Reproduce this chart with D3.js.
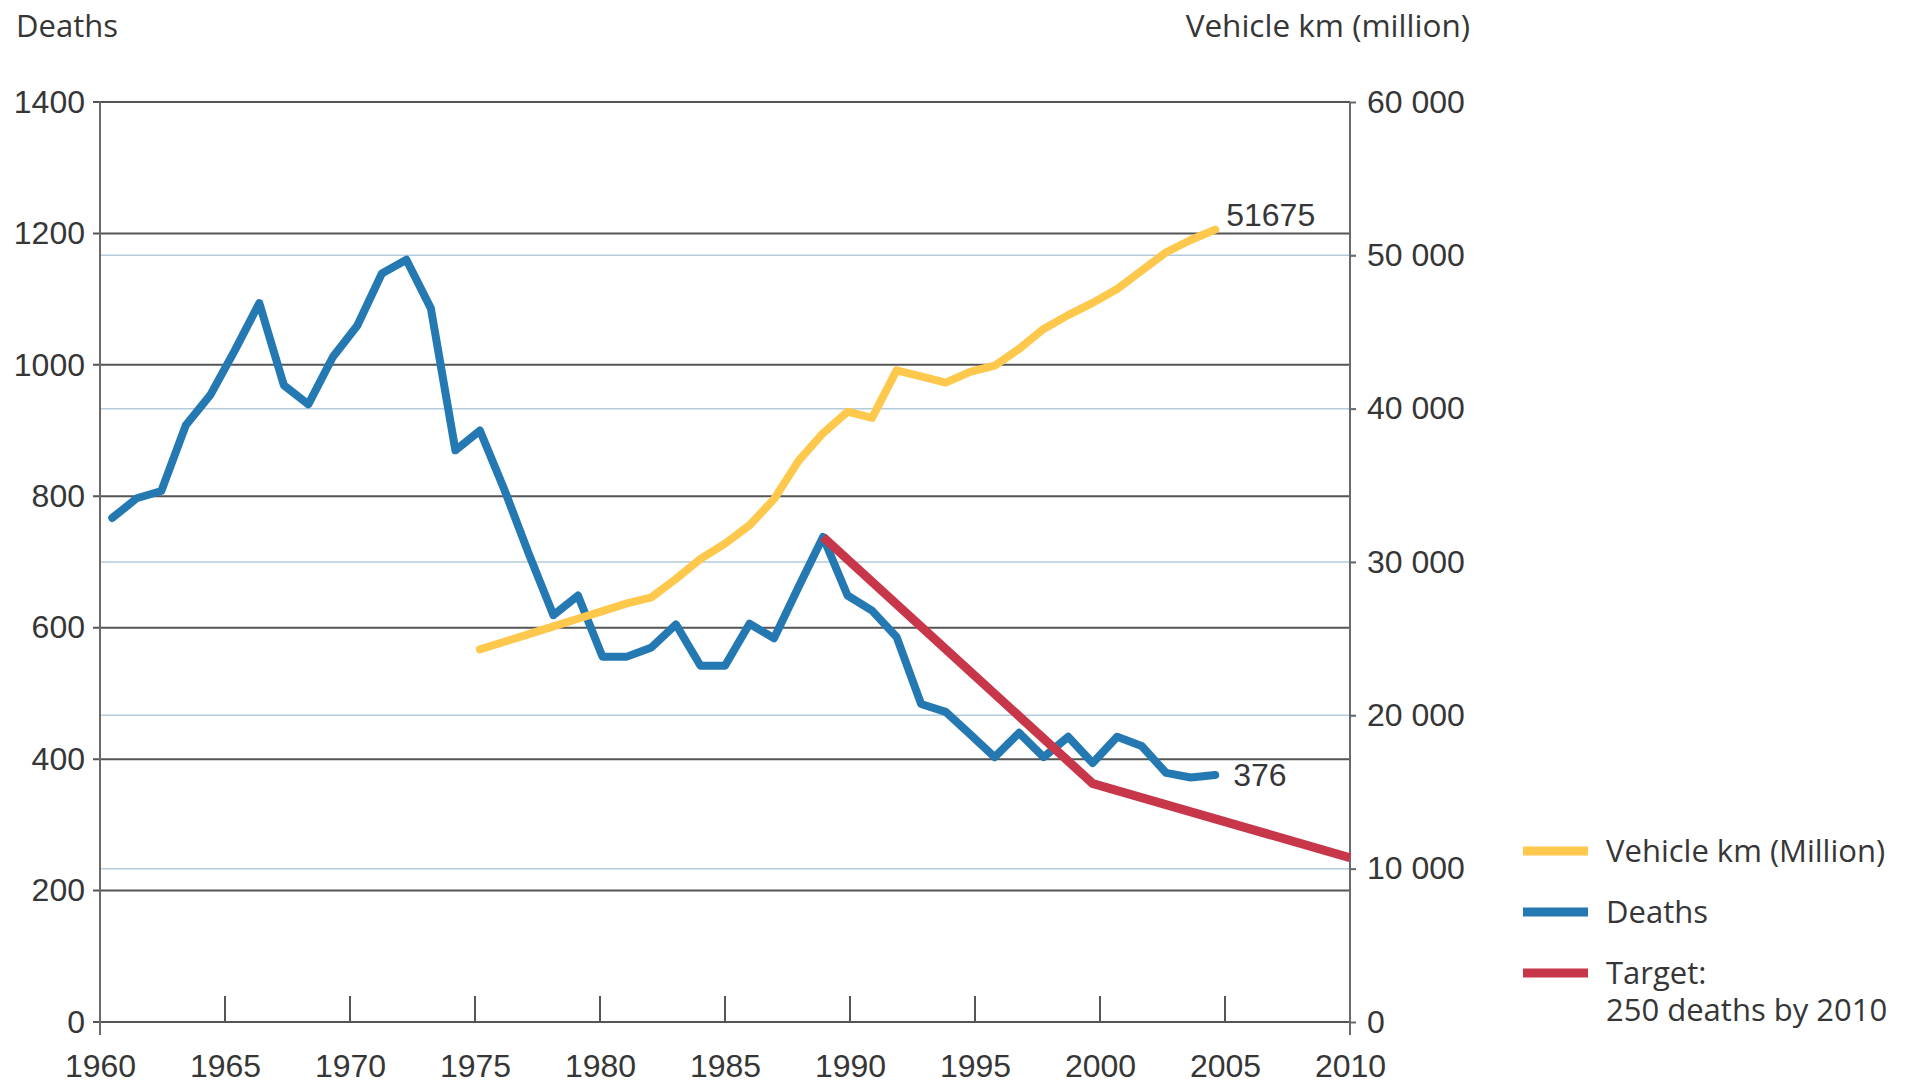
<!DOCTYPE html>
<html>
<head>
<meta charset="utf-8">
<script src="https://cdn.jsdelivr.net/npm/d3@7"></script>
<style>
  html, body { margin: 0; padding: 0; background: #ffffff; }
  svg { display: block; }
  .num { font-family: "Liberation Sans", Arial, sans-serif; font-size: 32px; fill: #363636; }
  .title { font-family: "Open Sans", "Noto Sans", sans-serif; font-size: 31px; fill: #363636; }
</style>
</head>
<body>
<svg id="chart" width="1915" height="1082"></svg>
<script>
// Road deaths per year
const deathYears = [1960, 1961, 1962, 1963, 1964, 1965, 1966, 1967, 1968, 1969,
                    1970, 1971, 1972, 1973, 1974, 1975, 1976, 1977, 1978, 1979,
                    1980, 1981, 1982, 1983, 1984, 1985, 1986, 1987, 1988, 1989,
                    1990, 1991, 1992, 1993, 1994, 1995, 1996, 1997, 1998, 1999,
                    2000, 2001, 2002, 2003, 2004, 2005];
const deaths = [767, 797, 808, 908, 954, 1022, 1094, 969, 940, 1012,
                1060, 1139, 1160, 1086, 870, 900, 810, 712, 619, 649,
                556, 556, 570, 605, 542, 542, 606, 584, 662, 738,
                649, 626, 586, 484, 472, 438, 403, 440, 403, 434,
                394, 434, 420, 379, 372, 376];

// Vehicle kilometres driven (million)
const kmYears = [1975, 1976, 1977, 1978, 1979, 1980, 1981, 1982, 1983, 1984,
                 1985, 1986, 1987, 1988, 1989, 1990, 1991, 1992, 1993, 1994,
                 1995, 1996, 1997, 1998, 1999, 2000, 2001, 2002, 2003, 2004, 2005];
const vehicleKm = [24300, 24800, 25300, 25800, 26300, 26800, 27300, 27700, 28900, 30200,
                   31200, 32400, 34100, 36600, 38400, 39800, 39400, 42500, 42100, 41700,
                   42400, 42800, 43900, 45200, 46100, 46900, 47800, 49000, 50200, 51000, 51675];

// Target path: 250 deaths by 2010
const targetYears = [1989, 2000, 2010];
const targetDeaths = [738, 363, 250];

// Axis ticks
const yearTicks = [1960, 1965, 1970, 1975, 1980, 1985, 1990, 1995, 2000, 2005, 2010];
const deathTicks = [0, 200, 400, 600, 800, 1000, 1200, 1400];
const kmTicks = [0, 10000, 20000, 30000, 40000, 50000, 60000];

// Legend entries
const legendLabels = [["Vehicle km (Million)"], ["Deaths"], ["Target:", "250 deaths by 2010"]];
const legendColors = ["#fdc84b", "#2479b3", "#c8364a"];

const svg = d3.select("#chart");
const plotLeft = 100, plotRight = 1350, plotTop = 102, plotBottom = 1022;

const xAxisScale = d3.scaleLinear().domain([1960, 2010]).range([plotLeft, plotRight]);
// each year sits in the middle of its own slot along the time axis
const xYear = d3.scalePoint()
  .domain(d3.range(yearTicks[0], yearTicks[yearTicks.length - 1] + 1))
  .range([plotLeft, plotRight])
  .padding(0.5);
// the target is met by the end of its final year, at the axis edge
const xTarget = y => (y === yearTicks[yearTicks.length - 1] ? xAxisScale(y) : xYear(y));
const yDeaths = d3.scaleLinear().domain([0, 1400]).range([plotBottom, plotTop]);
const yKm = d3.scaleLinear().domain([0, 60000]).range([plotBottom, plotTop]);

const spaced = d3.formatLocale({ decimal: ".", thousands: " ", grouping: [3], currency: ["", ""] }).format(",d");

// light gridlines for the vehicle-km scale
svg.append("g").selectAll("line")
  .data(kmTicks.filter(v => v > 0 && v < 60000))
  .join("line")
  .attr("x1", plotLeft).attr("x2", plotRight + 6)
  .attr("y1", d => yKm(d)).attr("y2", d => yKm(d))
  .attr("stroke", "#b4cbdd").attr("stroke-width", 1.5);

// darker gridlines for the deaths scale
svg.append("g").selectAll("line")
  .data(deathTicks)
  .join("line")
  .attr("x1", plotLeft - 7).attr("x2", plotRight)
  .attr("y1", d => yDeaths(d)).attr("y2", d => yDeaths(d))
  .attr("stroke", "#555555").attr("stroke-width", 2);

// year tick marks rising from the baseline
svg.append("g").selectAll("line")
  .data(yearTicks.slice(1, -1))
  .join("line")
  .attr("x1", d => xAxisScale(d)).attr("x2", d => xAxisScale(d))
  .attr("y1", plotBottom - 26).attr("y2", plotBottom)
  .attr("stroke", "#555555").attr("stroke-width", 2);

// vertical axis lines
[plotLeft, plotRight].forEach(x => {
  svg.append("line")
    .attr("x1", x).attr("x2", x).attr("y1", plotTop).attr("y2", plotBottom + 13)
    .attr("stroke", "#6a6a6a").attr("stroke-width", 2);
});

// left axis labels
const gLeft = svg.append("g").attr("transform", `translate(${plotLeft},0)`)
  .call(d3.axisLeft(yDeaths).tickValues(deathTicks).tickFormat(d3.format("d")).tickSize(0).tickPadding(15));
gLeft.select(".domain").remove();
gLeft.selectAll("text").attr("class", "num").attr("fill", null);
gLeft.attr("font-size", null).attr("font-family", null);

// right axis labels and ticks
const gRight = svg.append("g").attr("transform", `translate(${plotRight},0)`)
  .call(d3.axisRight(yKm).tickValues(kmTicks).tickFormat(spaced).tickSize(6).tickPadding(11));
gRight.select(".domain").remove();
gRight.selectAll(".tick line").attr("stroke", "#6a6a6a").attr("stroke-width", 2);
gRight.selectAll("text").attr("class", "num").attr("fill", null);
gRight.attr("font-size", null).attr("font-family", null);

// bottom axis labels
const gBottom = svg.append("g").attr("transform", `translate(0,${plotBottom})`)
  .call(d3.axisBottom(xAxisScale).tickValues(yearTicks).tickFormat(d3.format("d")).tickSize(0).tickPadding(32));
gBottom.select(".domain").remove();
gBottom.selectAll("text").attr("class", "num").attr("fill", null);
gBottom.attr("font-size", null).attr("font-family", null);

// axis titles
svg.append("text").attr("class", "title").attr("x", 16).attr("y", 37).text("Deaths");
svg.append("text").attr("class", "title").attr("x", 1470).attr("y", 37)
  .attr("text-anchor", "end").style("font-size", "31.5px").text("Vehicle km (million)");

// series lines
const deathPts = deathYears.map((y, i) => [xYear(y), yDeaths(deaths[i])]);
const kmPts = kmYears.map((y, i) => [xYear(y), yKm(vehicleKm[i])]);
const targetPts = targetYears.map((y, i) => [xTarget(y), yDeaths(targetDeaths[i])]);
const line = d3.line();

svg.append("path").attr("d", line(deathPts))
  .attr("fill", "none").attr("stroke", legendColors[1]).attr("stroke-width", 8)
  .attr("stroke-linejoin", "round").attr("stroke-linecap", "round");
svg.append("path").attr("d", line(kmPts))
  .attr("fill", "none").attr("stroke", legendColors[0]).attr("stroke-width", 8)
  .attr("stroke-linejoin", "round").attr("stroke-linecap", "round");
svg.append("path").attr("d", line(targetPts))
  .attr("fill", "none").attr("stroke", legendColors[2]).attr("stroke-width", 9)
  .attr("stroke-linejoin", "miter").attr("stroke-linecap", "butt");

// end-value labels
const lastKm = kmPts[kmPts.length - 1];
svg.append("text").attr("class", "num")
  .attr("x", lastKm[0] + 11).attr("y", lastKm[1] - 4)
  .text(vehicleKm[vehicleKm.length - 1]);
const lastDeath = deathPts[deathPts.length - 1];
svg.append("text").attr("class", "num")
  .attr("x", lastDeath[0] + 18).attr("y", lastDeath[1] + 11)
  .text(deaths[deaths.length - 1]);

// legend
const legend = svg.append("g").attr("transform", "translate(1523,851)");
legendLabels.forEach((lines, i) => {
  const g = legend.append("g").attr("transform", `translate(0,${i * 61})`);
  g.append("line").attr("x1", 0).attr("x2", 65).attr("y1", 0).attr("y2", 0)
    .attr("stroke", legendColors[i]).attr("stroke-width", 9);
  const t = g.append("text").attr("class", "title").attr("x", 83).attr("y", 11);
  lines.forEach((s, j) => t.append("tspan").attr("x", 83).attr("dy", j === 0 ? 0 : 37).text(s));
});
</script>
</body>
</html>
